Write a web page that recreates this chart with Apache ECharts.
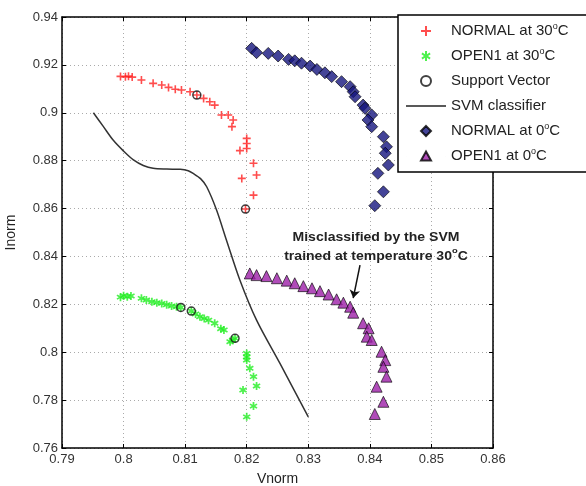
<!DOCTYPE html>
<html>
<head>
<meta charset="utf-8">
<script src="https://cdn.jsdelivr.net/npm/echarts@6/dist/echarts.min.js"></script>
<style>
  html, body { margin: 0; padding: 0; background: #fff; }
  #chart { width: 586px; height: 486px; }
</style>
</head>
<body>
<div id="chart"></div>
<script>
// values (Vnorm, Inorm)
const normal30 = [[0.7995,0.9152],[0.8003,0.9150],[0.8008,0.9153],[0.8014,0.9149],[0.8029,0.9137],[0.8048,0.9123],
  [0.8062,0.9116],[0.8073,0.9106],[0.8084,0.9098],[0.8094,0.9095],[0.8108,0.9088],[0.8119,0.9074],[0.8130,0.9060],
  [0.8140,0.9046],[0.8148,0.9032],[0.8159,0.8991],[0.8170,0.8991],[0.8178,0.8970],[0.8176,0.8942],[0.8200,0.8893],
  [0.8200,0.8872],[0.8200,0.8851],[0.8189,0.8842],[0.8211,0.8789],[0.8216,0.8740],[0.8192,0.8726],[0.8211,0.8656],
  [0.8198,0.8598]];
const open30 = [[0.7995,0.8230],[0.8000,0.8236],[0.8006,0.8232],[0.8012,0.8235],[0.8029,0.8225],[0.8037,0.8218],
  [0.8046,0.8211],[0.8054,0.8207],[0.8062,0.8204],[0.8070,0.8198],[0.8078,0.8193],[0.8086,0.8190],[0.8093,0.8187],
  [0.8110,0.8172],[0.8117,0.8160],[0.8124,0.8148],[0.8131,0.8141],[0.8138,0.8134],[0.8148,0.8121],[0.8158,0.8098],
  [0.8163,0.8093],[0.8173,0.8044],[0.8177,0.8050],[0.8181,0.8058],[0.8200,0.7995],[0.8200,0.7980],[0.8200,0.7967],
  [0.8205,0.7933],[0.8211,0.7898],[0.8194,0.7842],[0.8216,0.7859],[0.8211,0.7775],[0.8200,0.7730]];
const supportVec = [[0.8119,0.9074],[0.8198,0.8598],[0.8093,0.8187],[0.8110,0.8172],[0.8181,0.8058]];
const svmLine = [[0.7951,0.9000],[0.7967,0.8943],[0.7983,0.8886],[0.8000,0.8840],[0.8016,0.8803],[0.8032,0.8780],
  [0.8048,0.8768],[0.8070,0.8765],[0.8092,0.8764],[0.8105,0.8758],[0.8113,0.8747],[0.8125,0.8725],[0.8135,0.8691],
  [0.8151,0.8594],[0.8167,0.8469],[0.8189,0.8301],[0.8216,0.8134],[0.8254,0.7953],[0.8300,0.7730]];
const normal0 = [[0.8208,0.9269],[0.8216,0.9251],[0.8235,0.9248],[0.8251,0.9237],[0.8268,0.9223],[0.8278,0.9217],
  [0.8289,0.9207],[0.8303,0.9195],[0.8314,0.9181],[0.8327,0.9167],[0.8338,0.9151],[0.8354,0.9130],[0.8368,0.9109],
  [0.8373,0.9088],[0.8376,0.9067],[0.8389,0.9032],[0.8392,0.9019],[0.8403,0.8991],[0.8397,0.8970],[0.8403,0.8942],
  [0.8422,0.8900],[0.8427,0.8858],[0.8425,0.8831],[0.8430,0.8782],[0.8413,0.8747],[0.8422,0.8670],[0.8408,0.8612]];
const open0 = [[0.8205,0.8329],[0.8216,0.8322],[0.8232,0.8318],[0.8249,0.8309],[0.8265,0.8299],[0.8278,0.8288],
  [0.8292,0.8276],[0.8306,0.8267],[0.8319,0.8255],[0.8333,0.8241],[0.8346,0.8221],[0.8357,0.8207],[0.8368,0.8190],
  [0.8373,0.8165],[0.8389,0.8121],[0.8398,0.8100],[0.8395,0.8065],[0.8403,0.8051],[0.8419,0.8002],[0.8425,0.7967],
  [0.8422,0.7939],[0.8427,0.7898],[0.8411,0.7856],[0.8422,0.7793],[0.8408,0.7742]];
const arrowFrom = [0.8384, 0.8364];
const arrowTo = [0.8373, 0.8226];
const names = ['NORMAL at 30°C', 'OPEN1 at 30°C', 'Support Vector', 'SVM classifier', 'NORMAL at 0°C', 'OPEN1 at 0°C'];

const plusPath = 'path://M4,0H6V4H10V6H6V10H4V6H0V4H4Z';
const starPath = 'path://M4,0H6V3.2L8.6,1.6L9.6,3.3L7,5L9.6,6.7L8.6,8.4L6,6.8V10H4V6.8L1.4,8.4L0.4,6.7L3,5L0.4,3.3L1.4,1.6L4,3.2Z';
const font = 'Liberation Sans, Arial, sans-serif';
const sup = s => s.replace('°', '{s|o}');

const tick = (v) => String(+v.toFixed(2));
const chart = echarts.init(document.getElementById('chart'));

// legend icons are padded to the full 40px box so they are not stretched
const pad = (p) => 'path://M0,5L0.01,5Z ' + p + ' M39.99,5L40,5Z';
const legendIcons = {
    3: 'path://M0,4.2H40V5.8H0Z',
    4: pad('M20,0L25,5L20,10L15,5Z'),
    5: pad('M20,0.5L25,9.5L15,9.5Z')
};
const legendData = names.map((n, i) => legendIcons[i]
    ? { name: n, icon: legendIcons[i] }
    : { name: n });

const option = {
    backgroundColor: '#fff',
    animation: false,
    grid: { left: 62, top: 17, right: 93, bottom: 38, outerBoundsMode: 'none', containLabel: false },
    xAxis: [{
        type: 'value', min: 0.79, max: 0.86, interval: 0.01,
        name: 'Vnorm', nameLocation: 'middle', nameGap: 24,
        nameTextStyle: { color: '#222', fontSize: 14, fontFamily: font },
        axisLine: { lineStyle: { color: '#000', width: 1.5 } },
        axisTick: { inside: true, length: 4, lineStyle: { color: '#000' } },
        axisLabel: { color: '#333', fontSize: 13, fontFamily: font, margin: 5, formatter: tick },
        splitLine: { show: true, lineStyle: { color: '#aaa', type: [1, 3] } }
    }, {
        type: 'value', min: 0.79, max: 0.86, interval: 0.01, position: 'top',
        axisLine: { lineStyle: { color: '#000', width: 1.5 } },
        axisTick: { inside: true, length: 4, lineStyle: { color: '#000' } },
        axisLabel: { show: false }, splitLine: { show: false }
    }],
    yAxis: [{
        type: 'value', min: 0.76, max: 0.94, interval: 0.02,
        name: 'Inorm', nameLocation: 'middle', nameGap: 44,
        nameTextStyle: { color: '#222', fontSize: 14, fontFamily: font },
        axisLine: { lineStyle: { color: '#000', width: 1.5 } },
        axisTick: { inside: true, length: 4, lineStyle: { color: '#000' } },
        axisLabel: { color: '#333', fontSize: 13, fontFamily: font, margin: 4, formatter: tick },
        splitLine: { show: true, lineStyle: { color: '#aaa', type: [1, 3] } }
    }, {
        type: 'value', min: 0.76, max: 0.94, interval: 0.02, position: 'right',
        axisLine: { lineStyle: { color: '#000', width: 1.5 } },
        axisTick: { inside: true, length: 4, lineStyle: { color: '#000' } },
        axisLabel: { show: false }, splitLine: { show: false }
    }],
    legend: {
        orient: 'vertical', left: 405, top: 22, padding: 0,
        itemWidth: 40, itemHeight: 10, itemGap: 7, z: 6,
        data: legendData,
        formatter: sup,
        textStyle: {
            color: '#222', fontSize: 15, fontFamily: font, lineHeight: 18,
            rich: { s: { fontSize: 9, lineHeight: 9, verticalAlign: 'top', color: '#222', fontFamily: font } }
        }
    },
    graphic: [{
        type: 'rect', z: 5, shape: { x: 398, y: 15, width: 200, height: 157 },
        style: { fill: '#fff', stroke: '#000', lineWidth: 1.5 }
    }, {
        type: 'text', z: 7, x: 376, y: 228, scaleX: 1.17,
        style: {
            text: 'Misclassified by the SVM\ntrained at temperature 30{s|o}C',
            align: 'center', fill: '#222', font: 'bold 12px ' + font, lineHeight: 19,
            rich: { s: { fontSize: 8, lineHeight: 8, verticalAlign: 'top', fontWeight: 'bold', fill: '#222' } }
        }
    }],
    series: [{
        name: names[0], type: 'scatter', data: normal30, z: 3,
        symbol: plusPath, symbolSize: 8,
        itemStyle: { color: '#ff2020' }
    }, {
        name: names[1], type: 'scatter', data: open30, z: 3,
        symbol: starPath, symbolSize: 8,
        itemStyle: { color: '#22ee22' }
    }, {
        name: names[2], type: 'scatter', data: supportVec, z: 4,
        symbol: 'circle', symbolSize: 8,
        itemStyle: { color: 'transparent', borderColor: '#111', borderWidth: 1.5 }
    }, {
        name: names[3], type: 'line', data: svmLine, z: 3,
        symbol: 'none', smooth: 0.3,
        lineStyle: { color: '#333', width: 1.5 },
        itemStyle: { color: '#222' },
        markLine: {
            silent: true, symbol: ['none', 'arrow'], symbolSize: 8, label: { show: false },
            lineStyle: { color: '#111', width: 1.5, type: 'solid' },
            data: [[{ coord: arrowFrom }, { coord: arrowTo }]]
        }
    }, {
        name: names[4], type: 'scatter', data: normal0, z: 3,
        symbol: 'diamond', symbolSize: 12,
        itemStyle: { color: '#15157e', borderColor: '#000', borderWidth: 0.8 }
    }, {
        name: names[5], type: 'scatter', data: open0, z: 3,
        symbol: 'triangle', symbolSize: 11,
        itemStyle: { color: '#9c1fa8', borderColor: '#000', borderWidth: 0.8 }
    }]
};

chart.setOption(option);
</script>
</body>
</html>
